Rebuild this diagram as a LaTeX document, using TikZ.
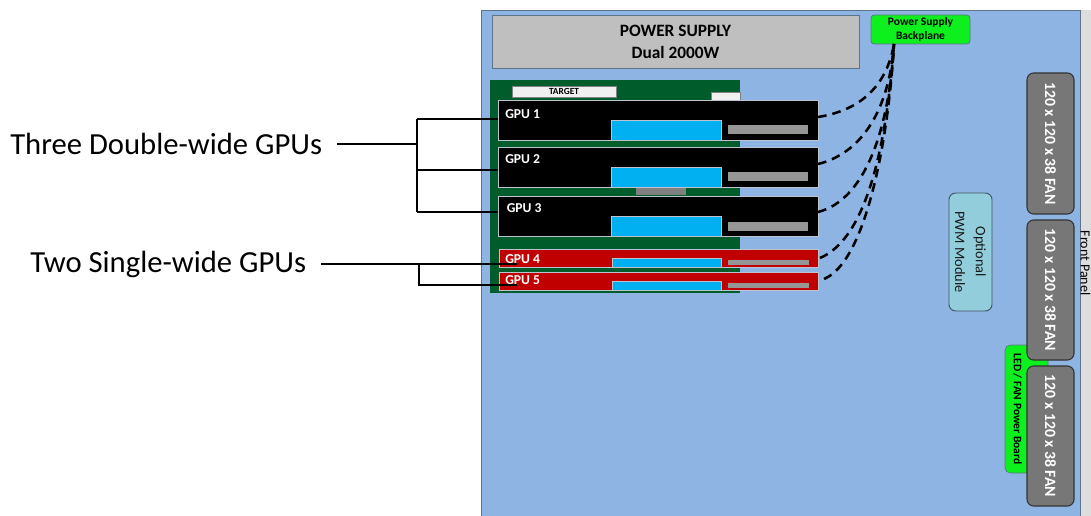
\documentclass[tikz,border=0pt]{standalone}
\usepackage{fontspec}
\setmainfont{Carlito}
\definecolor{chassis}{HTML}{8EB4E3}
\definecolor{chassisline}{HTML}{5F7488}
\definecolor{psgray}{HTML}{BFBFBF}
\definecolor{boardgreen}{HTML}{005C2B}
\definecolor{brightgreen}{HTML}{0DF01E}
\definecolor{gpured}{HTML}{C00000}
\definecolor{cyanblock}{HTML}{00B0F0}
\definecolor{midgray}{HTML}{969696}
\definecolor{fangray}{HTML}{777777}
\definecolor{pwmblue}{HTML}{92CDDC}
\definecolor{panelgray}{HTML}{DDDDDD}
\definecolor{edgegray}{HTML}{BDC3CC}
% \pxbox{name}{x1}{y1}{x2}{y2}{style}{text}: node spanning reference pixels
\newcommand{\pxbox}[7]{%
  \pgfmathsetmacro{\pxw}{(#4-#2)*0.75}%
  \pgfmathsetmacro{\pxh}{(#5-#3)*0.75}%
  \pgfmathsetmacro{\pxcx}{(#2+#4)/2}%
  \pgfmathsetmacro{\pxcy}{(#3+#5)/2}%
  \node[boxbase,minimum width=\pxw pt,minimum height=\pxh pt,#6] (#1) at (\pxcx,\pxcy) {#7};%
}
\tikzset{
  boxbase/.style={inner sep=0pt,outer sep=0pt,align=center},
  chassisbox/.style={fill=chassis,draw=chassisline,line width=0.7pt},
  panelbox/.style={fill=panelgray,draw=none},
  psbox/.style={fill=psgray,draw=chassisline,line width=0.7pt,font=\fontsize{13}{16.5}\selectfont\bfseries},
  bpbox/.style={fill=brightgreen,draw=chassisline,line width=0.6pt,rounded corners=2.5pt,font=\fontsize{8.6}{10.5}\selectfont\bfseries},
  boardbox/.style={fill=boardgreen,draw=none},
  tagbox/.style={fill=white!94!black,draw=gray,line width=0.4pt,font=\fontsize{7}{7}\selectfont\bfseries},
  gpublack/.style={fill=black,draw=edgegray,line width=0.7pt},
  gpuredbox/.style={fill=gpured,draw=edgegray,line width=0.7pt},
  cyanbox/.style={fill=cyanblock,draw=edgegray,line width=0.6pt},
  graybox/.style={fill=midgray,draw=none},
  connbox/.style={fill=gray,draw=none},
  fanbox/.style={fill=fangray,draw=black!80,line width=0.8pt,rounded corners=5pt},
  pwmbox/.style={fill=pwmblue,draw=chassisline!70!black,line width=0.7pt,rounded corners=5pt},
  ledbox/.style={fill=brightgreen,draw=chassisline,line width=0.5pt,rounded corners=4pt},
  gpulabel/.style={text=white,font=\fontsize{10.2}{11}\selectfont\bfseries,inner sep=0pt},
  fanlabel/.style={text=white,rotate=-90,font=\fontsize{11.8}{13}\selectfont\bfseries},
  biglabel/.style={font=\fontsize{23}{27}\selectfont,inner sep=0pt},
  leader/.style={black,line width=0.8pt},
  cable/.style={black,line width=1.9pt,dash pattern=on 6.5pt off 4.5pt},
}
\begin{document}
\begin{tikzpicture}[x=0.75pt,y=-0.75pt]
\useasboundingbox (0,0) rectangle (1091,516);
% chassis
\pxbox{panel}{1080}{10}{1091}{516}{panelbox}{}
\pxbox{chassis}{481.5}{10.5}{1080}{518}{chassisbox}{}
\node[rotate=-90,font=\fontsize{10.5}{12}\selectfont,inner sep=0pt] (paneltext) at (1085.5,263) {Front Panel};
% power
\pxbox{ps}{492}{15}{859}{68}{psbox}{POWER SUPPLY\\Dual 2000W}
\pxbox{bp}{871}{15}{970}{44}{bpbox}{Power Supply\\Backplane}
% board
\pxbox{board}{490}{80}{740}{293}{boardbox}{}
\pxbox{target}{512}{86}{616}{97}{tagbox}{TARGET}
\pxbox{tag}{711}{92}{740}{100}{tagbox}{}
\pxbox{conn}{636}{187}{686}{195}{connbox}{}
% GPU 1-3
\pxbox{gpua}{498}{100}{818}{140}{gpublack}{}
\pxbox{cyana}{611}{120}{721}{140}{cyanbox}{}
\pxbox{graya}{728}{125}{808}{134}{graybox}{}
\node[gpulabel,anchor=west] (labela) at (505,114) {GPU 1};
\pxbox{gpub}{498}{147}{818}{187}{gpublack}{}
\pxbox{cyanb}{611}{167}{721}{187}{cyanbox}{}
\pxbox{grayb}{728}{172}{808}{181}{graybox}{}
\node[gpulabel,anchor=west] (labelb) at (505,159.5) {GPU 2};
\pxbox{gpuc}{498}{196}{818}{236}{gpublack}{}
\pxbox{cyanc}{611}{216}{721}{236}{cyanbox}{}
\pxbox{grayc}{728}{222}{808}{231}{graybox}{}
\node[gpulabel,anchor=west] (labelc) at (506.5,208) {GPU 3};
% GPU 4-5
\pxbox{gpud}{499}{249}{818}{267}{gpuredbox}{}
\pxbox{cyand}{612}{258}{721}{267}{cyanbox}{}
\pxbox{grayd}{728}{260}{809}{265}{graybox}{}
\node[gpulabel,anchor=west] (labeld) at (505,259) {GPU 4};
\pxbox{gpue}{499}{272}{818}{290}{gpuredbox}{}
\pxbox{cyane}{612}{281}{721}{290}{cyanbox}{}
\pxbox{graye}{728}{283}{809}{288}{graybox}{}
\node[gpulabel,anchor=west] (labele) at (505,280.5) {GPU 5};
% right side
\pxbox{pwm}{949}{193}{992}{311}{pwmbox}{}
\node[rotate=-90,align=center,font=\fontsize{10.8}{15.5}\selectfont,text=black!90] (pwmtext) at (pwm.center) {Optional\\PWM Module};
\pxbox{led}{1005}{345}{1048}{473}{ledbox}{}
\node[rotate=-90,font=\fontsize{8.6}{9}\selectfont\bfseries,inner sep=0pt] (ledtext) at (1017.5,409) {LED / FAN Power Board};
\pxbox{fana}{1027}{73}{1074}{214}{fanbox}{}
\node[fanlabel] (fanatext) at (fana.center) {120 x 120 x 38 FAN};
\pxbox{fanb}{1027}{220}{1074}{360}{fanbox}{}
\node[fanlabel] (fanbtext) at (fanb.center) {120 x 120 x 38 FAN};
\pxbox{fanc}{1027}{366}{1074}{506}{fanbox}{}
\node[fanlabel] (fanctext) at (fanc.center) {120 x 120 x 38 FAN};
% dashed cables
\coordinate (bpout) at (894,44);
\coordinate (enda) at (818,117);
\coordinate (endb) at (818,164);
\coordinate (endc) at (818,212);
\coordinate (endd) at (820,258);
\coordinate (ende) at (824,279);
\draw[cable] (enda) .. controls (850,112) and (885,95) .. (bpout);
\draw[cable] (endb) .. controls (855,155) and (888,120) .. (bpout);
\draw[cable] (endc) .. controls (865,200) and (889,130) .. (bpout);
\draw[cable] (endd) .. controls (868,238) and (887,140) .. (bpout);
\draw[cable] (ende) .. controls (865,262) and (888,145) .. (bpout);
% left labels
\node[biglabel,anchor=west] (three) at (10,144) {Three Double-wide GPUs};
\node[biglabel,anchor=west] (two) at (30,264.5) {Two Single-wide GPUs};
\coordinate (threeout) at (337,144);
\coordinate (threej) at (417,144);
\coordinate (threea) at (417,119);
\coordinate (threeb) at (417,170);
\coordinate (threec) at (417,212);
\draw[leader] (threeout) -- (threej);
\draw[leader] (threea) -- (threec);
\draw[leader] (threea) -- (threea -| gpua.west);
\draw[leader] (threeb) -- (threeb -| gpub.west);
\draw[leader] (threec) -- (threec -| gpuc.west);
\coordinate (twoout) at (321,264);
\coordinate (twoj) at (419,264);
\coordinate (twok) at (419,285);
\coordinate (twod) at (517,264);
\coordinate (twoe) at (517,285);
\draw[leader] (twoout) -- (twod);
\draw[leader] (twoj) -- (twok) -- (twoe);
\end{tikzpicture}
\end{document}
